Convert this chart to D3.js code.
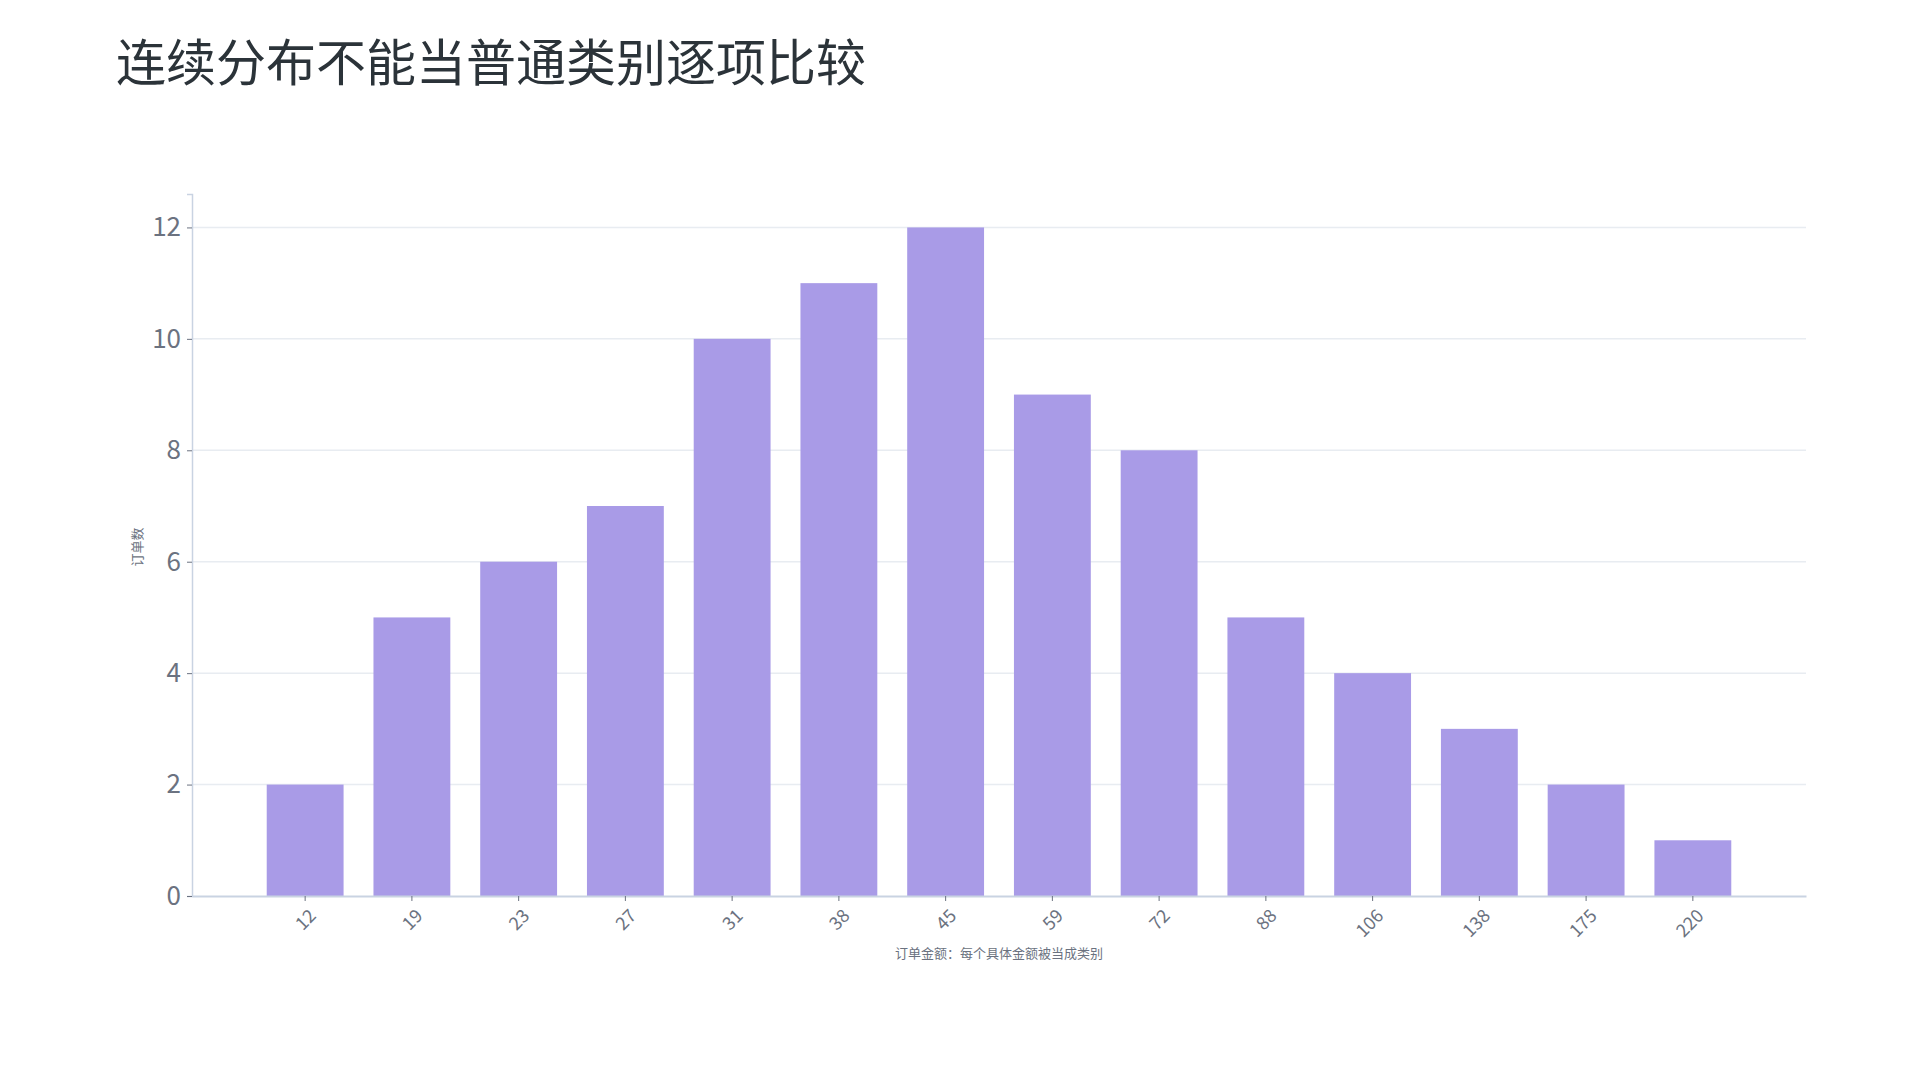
<!DOCTYPE html>
<html>
<head>
<meta charset="utf-8">
<script src="https://cdn.jsdelivr.net/npm/d3@7"></script>
<style>
  body { margin: 0; background: #fff; }
  svg text { font-family: "Noto Sans CJK SC", "Noto Sans", sans-serif; }
</style>
</head>
<body>
<div id="chart"></div>
<script>
const title = "连续分布不能当普通类别逐项比较";
const categories = ["12", "19", "23", "27", "31", "38", "45", "59", "72", "88", "106", "138", "175", "220"];
const counts = [2, 5, 6, 7, 10, 11, 12, 9, 8, 5, 4, 3, 2, 1];
const yTicks = [0, 2, 4, 6, 8, 10, 12];
const xLabel = "订单金额：每个具体金额被当成类别";
const yLabel = "订单数";

const data = categories.map((c, i) => ({ cat: c, value: counts[i] }));

const W = 1920, H = 1080;
const margin = { top: 194, right: 114, bottom: 184, left: 192 };
const width = W - margin.left - margin.right;
const height = H - margin.top - margin.bottom;

const svg = d3
  .select("#chart")
  .append("svg")
  .attr("width", W)
  .attr("height", H);

svg
  .append("text")
  .attr("x", 116)
  .attr("y", 81)
  .attr("fill", "#2b3339")
  .style("font-size", "50px")
  .text(title);

const g = svg
  .append("g")
  .attr("transform", `translate(${margin.left},${margin.top})`);

const x = d3
  .scaleBand()
  .domain(categories)
  .range([0, width])
  .paddingInner(0.28)
  .paddingOuter(0.7);

const y = d3.scaleLinear().domain([0, 12.6]).range([height, 0]);

// grid
g.append("g")
  .selectAll("line")
  .data(yTicks.filter((d) => d > 0))
  .join("line")
  .attr("x1", 0)
  .attr("x2", width)
  .attr("y1", (d) => y(d))
  .attr("y2", (d) => y(d))
  .attr("stroke", "#e8ecf1")
  .attr("stroke-width", 1.5);

g.selectAll("rect.bar")
  .data(data)
  .join("rect")
  .attr("class", "bar")
  .attr("x", (d) => x(d.cat))
  .attr("y", (d) => y(d.value))
  .attr("width", x.bandwidth())
  .attr("height", (d) => y(0) - y(d.value))
  .attr("fill", "#a99be7");

// y axis
const yAxis = g
  .append("g")
  .call(d3.axisLeft(y).tickValues(yTicks).tickSize(5).tickPadding(6));
yAxis.select(".domain").attr("stroke", "#c9d3e2").attr("stroke-width", 1.5);
yAxis.selectAll(".tick line").attr("stroke", "#6b7280");
yAxis
  .selectAll(".tick text")
  .attr("fill", "#6b7280")
  .style("font-size", "26px");

// x axis
const xAxis = g
  .append("g")
  .attr("transform", `translate(0,${height})`)
  .call(d3.axisBottom(x).tickSize(5).tickSizeOuter(0));
xAxis.select(".domain").attr("stroke", "#c9d3e2").attr("stroke-width", 2);
xAxis.selectAll(".tick line").attr("stroke", "#6b7280");
xAxis
  .selectAll(".tick text")
  .attr("x", 0)
  .attr("y", 0)
  .attr("dy", 0)
  .attr("transform", "translate(12,21) rotate(-45)")
  .style("text-anchor", "end")
  .attr("fill", "#6b7280")
  .style("font-size", "18px");

g.append("text")
  .attr("x", width / 2)
  .attr("y", height + 62)
  .attr("text-anchor", "middle")
  .attr("fill", "#6b7280")
  .style("font-size", "13px")
  .text(xLabel);

g.append("text")
  .attr("transform", "rotate(-90)")
  .attr("x", -(547 - margin.top))
  .attr("y", 137 - margin.left + 5)
  .attr("text-anchor", "middle")
  .attr("fill", "#6b7280")
  .style("font-size", "13px")
  .text(yLabel);
</script>
</body>
</html>
